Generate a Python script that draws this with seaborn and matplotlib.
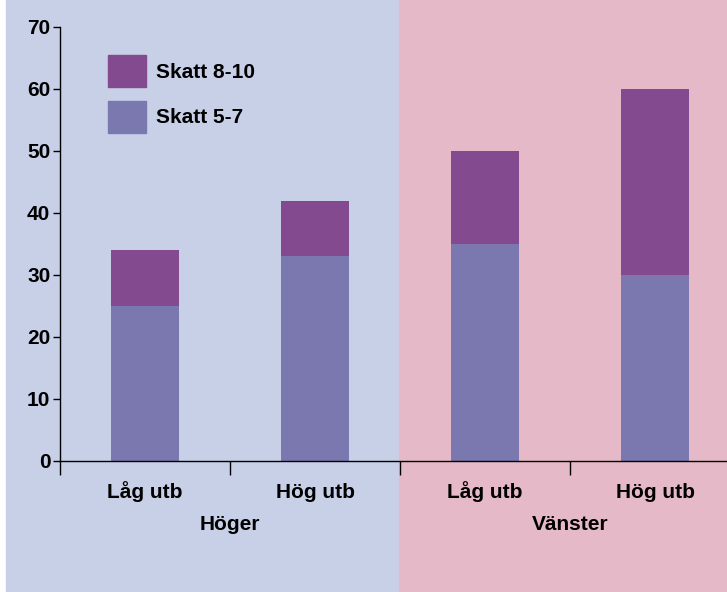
import pandas as pd
import matplotlib.pyplot as plt
import seaborn as sns
from matplotlib.patches import Rectangle, Patch

# Data
groups = ['Höger', 'Höger', 'Vänster', 'Vänster']
utb = ['Låg utb', 'Hög utb', 'Låg utb', 'Hög utb']
skatt_5_7 = [25, 33, 35, 30]
skatt_8_10 = [9, 9, 15, 30]

df = pd.DataFrame({'group': groups, 'utb': utb,
                   'low': skatt_5_7, 'high': skatt_8_10})
df['pos'] = [f'{g}\n{u}' for g, u in zip(df['group'], df['utb'])]
df['total'] = df['low'] + df['high']

c_high = '#844a8f'
c_low = '#7b78b0'
bg_left = '#c8d0e8'
bg_right = '#e5b9c8'

sns.set_style('white')
plt.rcParams['font.family'] = ['Liberation Sans', 'DejaVu Sans']
plt.rcParams['font.weight'] = 'bold'
plt.rcParams['text.color'] = 'black'
plt.rcParams['ytick.color'] = 'black'
plt.rcParams['xtick.color'] = 'black'

fig = plt.figure(figsize=(7.27, 5.92), dpi=100)
W, H = 727, 592
# background panels
fig.patches.append(Rectangle((6 / W, 0), (399 - 6) / W, 1, transform=fig.transFigure,
                             color=bg_left, zorder=-10))
fig.patches.append(Rectangle((399 / W, 0), 1 - 399 / W, 1, transform=fig.transFigure,
                             color=bg_right, zorder=-10))

ax = fig.add_axes([60 / W, (H - 461) / H, (W - 60) / W, (461 - 27) / H])
ax.patch.set_alpha(0)

# stacked bars: total first, then bottom part on top
sns.barplot(data=df, x='pos', y='total', color=c_high, width=0.4,
            saturation=1, linewidth=0, ax=ax)
sns.barplot(data=df, x='pos', y='low', color=c_low, width=0.4,
            saturation=1, linewidth=0, ax=ax)

ax.set_xlim(-0.5, -0.5 + 667 / 170)
ax.set_ylim(0, 70)
ax.set_yticks(range(0, 71, 10))
ax.set_xticks([-0.5, 0.5, 1.5, 2.5])
ax.set_xticklabels([])
ax.set_xlabel('')
ax.set_ylabel('')
for s in ['top', 'right']:
    ax.spines[s].set_visible(False)
for s in ['left', 'bottom']:
    ax.spines[s].set_color('black')
    ax.spines[s].set_linewidth(1)
ax.tick_params(axis='y', length=5, width=1, direction='out', labelsize=15, pad=2, left=True)
ax.tick_params(axis='x', length=10, width=1, direction='out', bottom=True)

for i, u in enumerate(df['utb']):
    ax.text(i, -5.0, u, ha='center', va='center', fontsize=15, fontweight='bold')
ax.text(0.5, -10.2, 'Höger', ha='center', va='center', fontsize=15, fontweight='bold')
ax.text(2.5, -10.2, 'Vänster', ha='center', va='center', fontsize=15, fontweight='bold')

handles = [Patch(color=c_high, label='Skatt 8-10'), Patch(color=c_low, label='Skatt 5-7')]
leg = ax.legend(handles=handles, loc='upper left', bbox_to_anchor=(0.06, 0.955),
                frameon=False, fontsize=15, handlelength=1.8, handleheight=2.0,
                labelspacing=0.65, handletextpad=0.5, borderaxespad=0)
for t in leg.get_texts():
    t.set_fontweight('bold')

fig.savefig('out.png', dpi=100)
